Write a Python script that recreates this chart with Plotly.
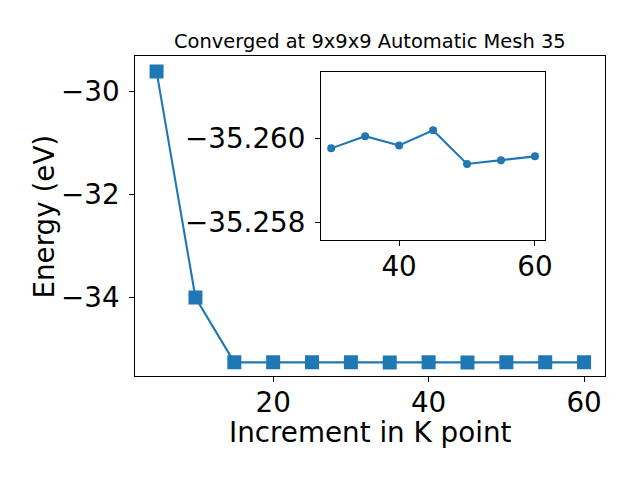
import plotly.graph_objects as go

# K-point increments and total energies (eV)
kpoints = [5, 10, 15, 20, 25, 30, 35, 40, 45, 50, 55, 60]
energies = [-29.61, -34.00, -35.2597, -35.2598, -35.2599, -35.25976, -35.26005,
            -35.25983, -35.26019, -35.25939, -35.25948, -35.25957]

inset_k = kpoints[5:]
inset_e = energies[5:]

title_text = "Converged at 9x9x9 Automatic Mesh 35"
xlabel = "Increment in K point"
ylabel = "Energy (eV)"

main_xticks = [20, 40, 60]
main_yticks = [-30, -32, -34]
inset_xticks = [40, 60]
inset_yticks = [-35.260, -35.258]

C0 = "#1f77b4"
FONT = "DejaVu Sans"
RW, H = 640, 480      # reference frame used for placement fractions
W = 648               # figure width (viewport is captured slightly wider)
FS = 27.78   # 20 pt at 100 dpi
TFS = 19.44  # 14 pt at 100 dpi

fig = go.Figure()

fig.add_trace(go.Scatter(
    x=kpoints, y=energies, mode="lines+markers",
    line=dict(color=C0, width=2.1),
    marker=dict(symbol="square", size=14, color=C0),
    xaxis="x", yaxis="y", showlegend=False, hoverinfo="skip"))

fig.add_trace(go.Scatter(
    x=inset_k, y=inset_e, mode="lines+markers",
    line=dict(color=C0, width=2.1),
    marker=dict(symbol="circle", size=8, color=C0),
    xaxis="x2", yaxis="y2", showlegend=False, hoverinfo="skip"))

axis_common = dict(
    showgrid=False, zeroline=False, showline=True, linecolor="black",
    linewidth=1.1, mirror=True, ticks="outside", ticklen=5, tickwidth=1.1,
    tickcolor="black", tickfont=dict(family=FONT, size=FS, color="black"),
)

fig.update_layout(
    width=W, height=H,
    margin=dict(l=0, r=0, t=0, b=0),
    paper_bgcolor="white", plot_bgcolor="white",
    font=dict(family=FONT, color="black"),
    xaxis=dict(domain=[135 / RW, 604.5 / RW], range=[2.25, 62.75],
               tickvals=main_xticks, anchor="y", ticklabelstandoff=-3, **axis_common),
    yaxis=dict(domain=[1 - 375.5 / H, 1 - 56 / H], range=[-35.515, -29.307],
               tickvals=main_yticks, anchor="x", ticklabelstandoff=4, **axis_common),
    xaxis2=dict(domain=[320.5 / RW, 544.3 / RW], range=[28.5, 61.5],
                tickvals=inset_xticks, anchor="y2", ticklabelstandoff=-3, **axis_common),
    yaxis2=dict(domain=[1 - 240 / H, 1 - 72.3 / H], range=[-35.25758, -35.26157],
                tickvals=inset_yticks, tickformat=".3f", anchor="x2",
                ticklabelstandoff=4, **axis_common),
    annotations=[
        dict(text=title_text, x=369.5 / RW, y=1 - 41 / H, xref="paper", yref="paper",
             xanchor="center", yanchor="middle", showarrow=False,
             font=dict(family=FONT, size=TFS, color="black")),
        dict(text=xlabel, x=369.5 / RW, y=1 - 432 / H, xref="paper", yref="paper",
             xanchor="center", yanchor="middle", showarrow=False,
             font=dict(family=FONT, size=FS, color="black")),
        dict(text=ylabel, x=44 / RW, y=1 - 216.5 / H, xref="paper", yref="paper",
             xanchor="center", yanchor="middle", showarrow=False, textangle=-90,
             font=dict(family=FONT, size=FS, color="black")),
    ],
)

fig.write_html("out.html", config={"displayModeBar": False},
               post_script="document.body.style.margin='0';document.body.style.overflow='hidden';")
